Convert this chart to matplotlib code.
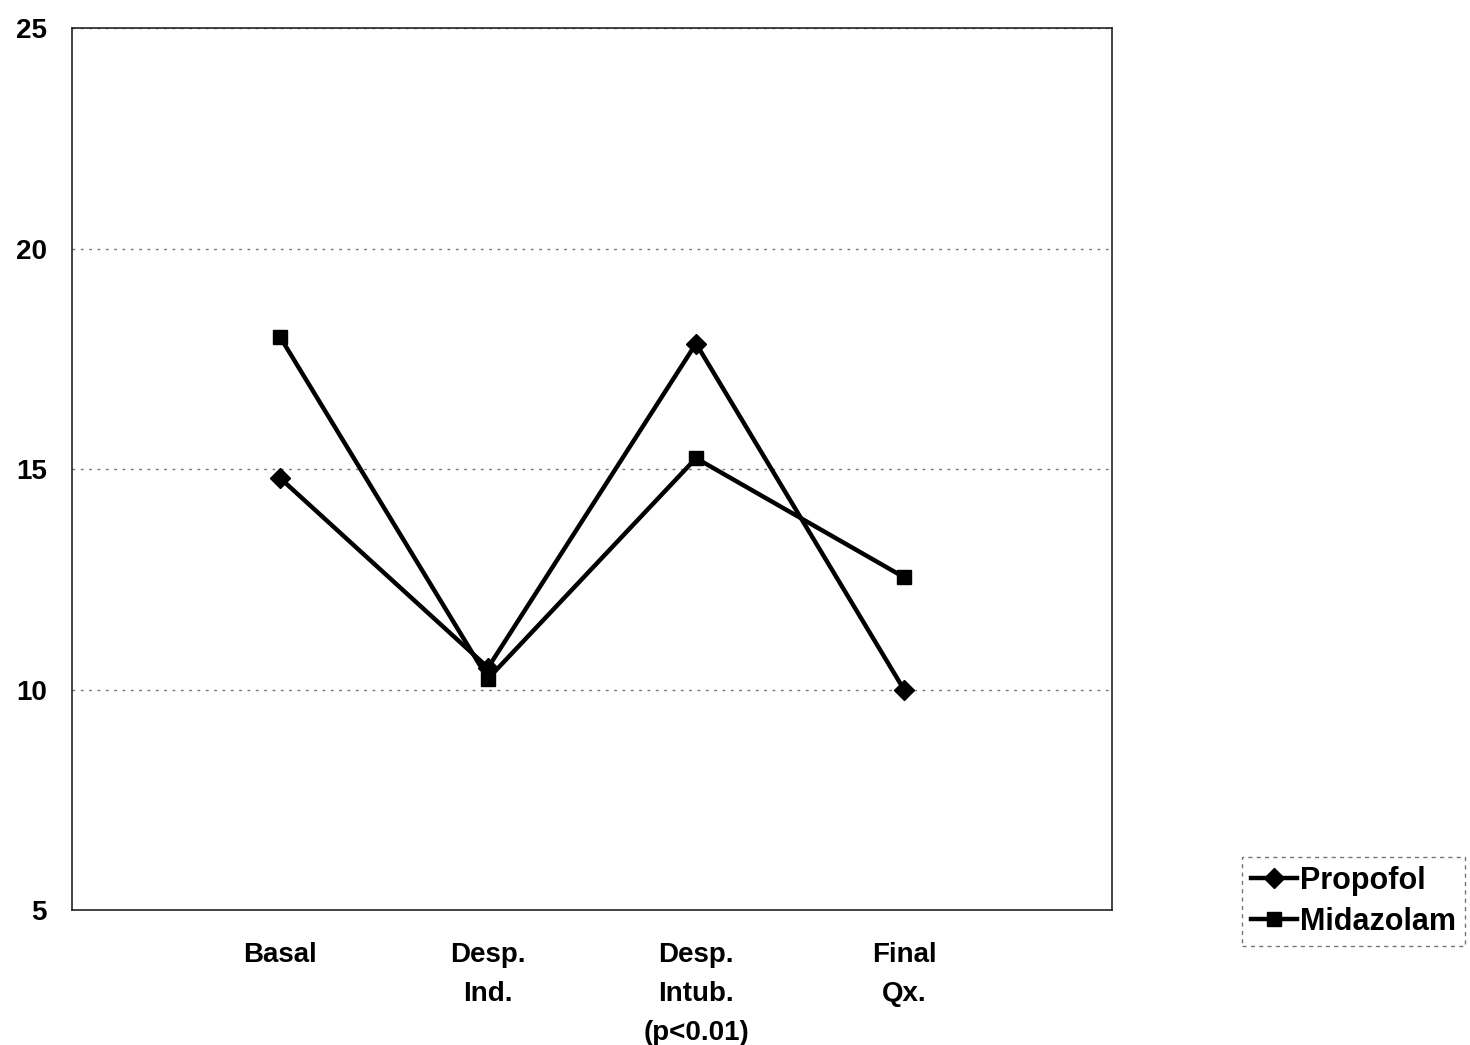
import matplotlib.pyplot as plt

categorias = ['Basal', 'Desp.\nInd.', 'Desp.\nIntub.\n(p<0.01)', 'Final\nQx.']
propofol = [14.8, 10.5, 17.85, 10.0]
midazolam = [18.0, 10.25, 15.25, 12.55]
marcas_y = [5, 10, 15, 20, 25]

plt.rcParams['font.family'] = ['Liberation Sans', 'DejaVu Sans']
plt.rcParams['font.weight'] = 'bold'

fig = plt.figure(figsize=(14.7, 10.45), dpi=100)
ax = fig.add_axes([0.049, 0.129, 0.7075, 0.844])

x = list(range(1, len(categorias) + 1))
ax.plot(x, propofol, color='black', lw=3.2, marker='D', ms=10, label='Propofol')
ax.plot(x, midazolam, color='black', lw=3.2, marker='s', ms=10, label='Midazolam')

ax.set_xlim(0, 5)
ax.set_ylim(5, 25)
ax.set_yticks(marcas_y)
ax.set_xticks(x)
ax.set_xticklabels(categorias, linespacing=1.65)
ax.tick_params(length=0, labelsize=20)
ax.tick_params(axis='y', pad=18)
ax.tick_params(axis='x', pad=23)
for t in ax.get_xticklabels() + ax.get_yticklabels():
    t.set_fontweight('bold')
ax.grid(axis='y', linestyle=(0, (2, 4)), color='#777777', lw=1)
for s in ax.spines.values():
    s.set_linewidth(1.2)
    s.set_color('#222222')

leg = fig.legend(loc='upper left', bbox_to_anchor=(1242 / 1470, 1 - 857 / 1045),
                 frameon=True, fancybox=False, fontsize=22, handlelength=1.5,
                 handletextpad=0.1, borderpad=0.3, labelspacing=0.35,
                 borderaxespad=0)
leg.get_frame().set_edgecolor('#555555')
leg.get_frame().set_linestyle((0, (3, 3)))
leg.get_frame().set_linewidth(1)
for t in leg.get_texts():
    t.set_fontweight('bold')

fig.savefig('out.png', dpi=100)
